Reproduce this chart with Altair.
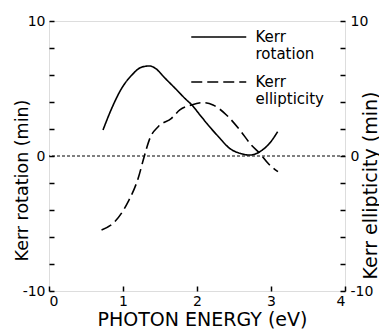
import altair as alt
import pandas as pd

# ---- data ----
rot_energy = [0.73, 0.85, 0.985, 1.12, 1.255, 1.36, 1.43, 1.565, 1.70, 1.84,
              1.93, 2.04, 2.17, 2.31, 2.44, 2.58, 2.71, 2.85, 2.98, 3.09]
rot_value = [1.93, 3.56, 5.04, 6.0, 6.59, 6.67, 6.52, 5.78, 5.04, 4.25,
             3.78, 3.04, 2.17, 1.31, 0.57, 0.20, 0.07, 0.32, 0.94, 1.80]

ell_energy = [0.71, 0.89, 1.07, 1.205, 1.286, 1.363, 1.475, 1.655, 1.768, 1.926,
              2.08, 2.217, 2.398, 2.578, 2.735, 2.848, 2.96, 3.094]
ell_value = [-5.48, -4.86, -3.38, -1.65, -0.05, 1.31, 2.17, 2.79, 3.41, 3.78,
             3.95, 3.78, 3.04, 1.93, 0.81, 0.20, -0.54, -1.16]

series_names = ["Kerr rotation", "Kerr ellipticity"]
x_ticks = [0, 1, 2, 3, 4]
y_ticks = [-10, -8, -6, -4, -2, 0, 2, 4, 6, 8, 10]
y_labeled = [-10, 0, 10]
zero_line = [0]

rot_df = pd.DataFrame({"energy": rot_energy, "value": rot_value, "series": series_names[0]})
ell_df = pd.DataFrame({"energy": ell_energy, "value": ell_value, "series": series_names[1]})
zero_df = pd.DataFrame({"value": zero_line})

FONT = "DejaVu Sans"
W, H = 296, 270
label_expr = "indexof(%s, datum.value) >= 0 ? toString(datum.value) : ''" % str(y_labeled)

x_enc = alt.X(
    "energy:Q",
    scale=alt.Scale(domain=[0, 4], nice=False, zero=False),
    axis=alt.Axis(
        values=x_ticks, title="PHOTON ENERGY (eV)", ticks=False, domain=False,
        grid=True, gridColor="black", gridWidth=1.5, gridDash=[5, H - 5], gridDashOffset=5,
        labelFont=FONT, labelFontSize=14, labelPadding=3, labelColor="black",
        titleFont=FONT, titleFontSize=19, titleFontWeight="normal", titleColor="black",
        titleBaseline="alphabetic", titleY=34, titleX=153,
    ),
)

y_scale = alt.Scale(domain=[-10, 10], nice=False, zero=False)

dash_scale = alt.Scale(domain=series_names, range=[[1, 0], [11, 5]])

legend = alt.Legend(
    title=None, orient="none", legendX=154.75, legendY=1, padding=0,
    symbolType="M-2,0H2", symbolSize=756, symbolStrokeWidth=1.6,
    symbolStrokeColor="black", symbolFillColor="transparent",
    labelFont=FONT, labelFontSize=15, labelColor="black",
    labelExpr="split(datum.label, ' ')",
    labelBaseline="middle", labelOffset=21.75, rowPadding=5,
)

rot_line = alt.Chart(rot_df).mark_line(color="black", strokeWidth=1.6, interpolate="monotone").encode(
    x=x_enc,
    y=alt.Y("value:Q", scale=y_scale, axis=alt.Axis(
        orient="left", values=y_ticks, labelExpr=label_expr, title="Kerr rotation (min)",
        ticks=False, domain=False, grid=True, gridColor="black", gridWidth=1.5,
        gridDash=[5, W + 10], labelFont=FONT, labelFontSize=14, labelPadding=4,
        labelColor="black", titleFont=FONT, titleFontSize=17.5, titleFontWeight="normal",
        titleColor="black", titleAngle=270, titleBaseline="alphabetic",
        titleX=-22, titleY=159, titleAlign="center")),
    strokeDash=alt.StrokeDash("series:N", scale=dash_scale, legend=legend),
)

ell_line = alt.Chart(ell_df).mark_line(color="black", strokeWidth=1.6, interpolate="monotone").encode(
    x=x_enc,
    y=alt.Y("value:Q", scale=y_scale, axis=alt.Axis(
        orient="right", values=y_ticks, labelExpr=label_expr, title="Kerr ellipticity (min)",
        ticks=False, domain=False, grid=True, gridColor="black", gridWidth=1.5,
        gridDash=[5, W + 10], labelFont=FONT, labelFontSize=14, labelPadding=5,
        labelColor="black", titleFont=FONT, titleFontSize=19, titleFontWeight="normal",
        titleColor="black", titleAngle=270, titleBaseline="alphabetic",
        titleX=31, titleY=164, titleAlign="center")),
    strokeDash=alt.StrokeDash("series:N", scale=dash_scale, legend=legend),
)

zero_rule = alt.Chart(zero_df).mark_rule(color="black", strokeWidth=1, strokeDash=[3, 2]).encode(
    y=alt.Y("value:Q", scale=y_scale, axis=None),
)

chart = alt.layer(zero_rule, rot_line, ell_line).resolve_axis(y="independent").properties(
    width=W, height=H,
    autosize=alt.AutoSizeParams(type="none"),
    padding={"left": 49, "top": 21, "right": 379 - 49 - W, "bottom": 329 - 21 - H},
).configure_view(stroke="black", strokeWidth=1.5).configure(background="white")

chart.save("out.html", embed_options={"renderer": "svg", "actions": False})
